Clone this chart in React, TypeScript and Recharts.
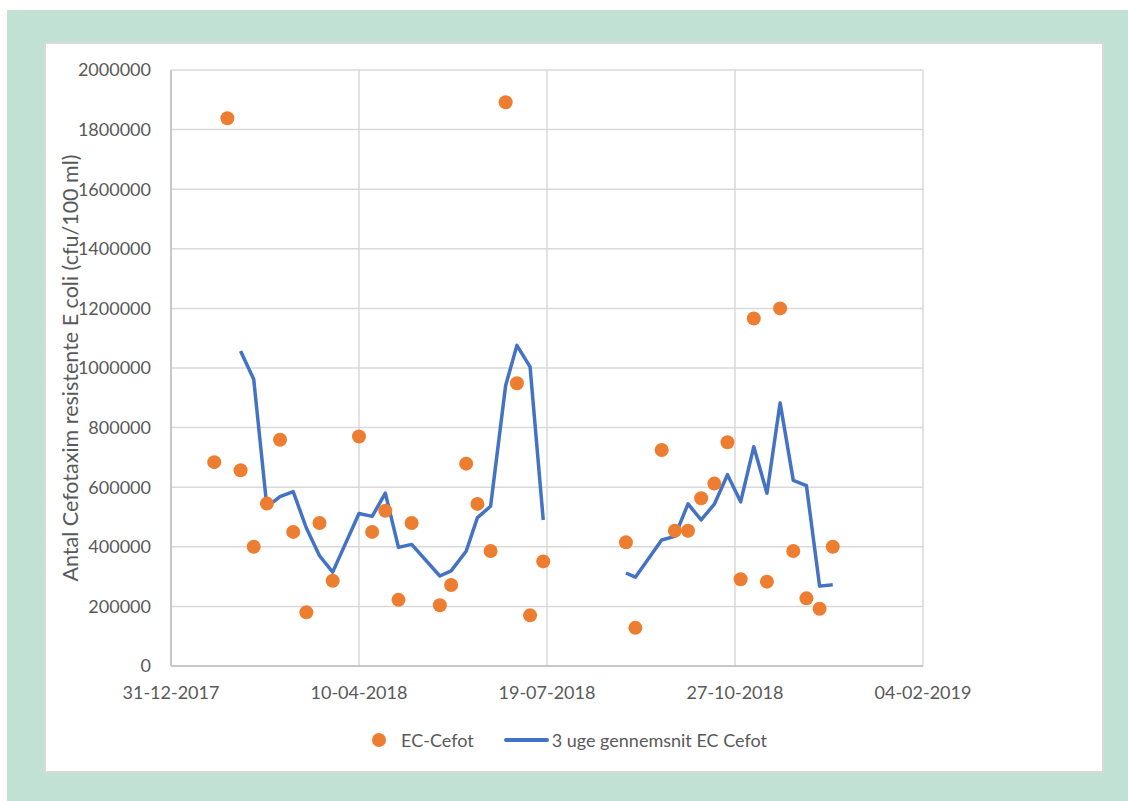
import React from "react"
import {
	ComposedChart,
	Line,
	Scatter,
	XAxis,
	YAxis,
	CartesianGrid,
	Legend,
	Label,
} from "recharts"

// weekly samples; the empty week in late July breaks the average line
const sampleDates = [
	"2018-01-23", "2018-01-30", "2018-02-06", "2018-02-13", "2018-02-20",
	"2018-02-27", "2018-03-06", "2018-03-13", "2018-03-20", "2018-03-27",
	"2018-04-10", "2018-04-17", "2018-04-24", "2018-05-01", "2018-05-08",
	"2018-05-23", "2018-05-29", "2018-06-06", "2018-06-12", "2018-06-19",
	"2018-06-27", "2018-07-03", "2018-07-10", "2018-07-17", "2018-07-24",
	"2018-08-30", "2018-09-04", "2018-09-18", "2018-09-25", "2018-10-02",
	"2018-10-09", "2018-10-16", "2018-10-23", "2018-10-30", "2018-11-06",
	"2018-11-13", "2018-11-20", "2018-11-27", "2018-12-04", "2018-12-11",
	"2018-12-18",
]

const ecCefot = [
	684000, 1838000, 657000, 400000, 545000,
	759000, 450000, 180000, 480000, 286000,
	770000, 450000, 521000, 222000, 480000,
	204000, 272000, 679000, 544000, 386000,
	1892000, 949000, 170000, 351000, null,
	415000, 128000, 725000, 454000, 454000,
	563000, 612000, 751000, 291000, 1166000,
	283000, 1200000, 386000, 227000, 192000,
	400000,
]

const avg3Weeks = [
	null, null, 1057000, 962000, 534000,
	568000, 585000, 463000, 370000, 315000,
	512000, 502000, 580000, 398000, 408000,
	302000, 319000, 385000, 498000, 536000,
	941000, 1076000, 1004000, 490000, null,
	312000, 298000, 423000, 435000, 544000,
	490000, 543000, 642000, 551000, 736000,
	580000, 883000, 623000, 605000, 268000,
	273000,
]

const xTickDates = ["2017-12-31", "2018-04-10", "2018-07-19", "2018-10-27", "2019-02-04"]
const yTicks = [0, 200000, 400000, 600000, 800000, 1000000, 1200000, 1400000, 1600000, 1800000, 2000000]

const toTime = (d: string) => {
	const [y, m, day] = d.split("-").map(Number)
	return Date.UTC(y, m - 1, day)
}

const pad = (n: number) => String(n).padStart(2, "0")
const formatDate = (t: number) => {
	const d = new Date(t)
	return `${pad(d.getUTCDate())}-${pad(d.getUTCMonth() + 1)}-${d.getUTCFullYear()}`
}

const xTicks = xTickDates.map(toTime)

const scatterData = sampleDates
	.map((d, i) => ({ t: toTime(d), ec: ecCefot[i] }))
	.filter((p) => p.ec !== null)

const lineData = sampleDates.map((d, i) => ({ t: toTime(d), avg: avg3Weeks[i] }))

const ORANGE = "#ED7D31"
const BLUE = "#4472C4"
const TEXT = "#595959"
const FONT = "Lato, 'Open Sans', sans-serif"

const LegendBox = () => (
	<div
		style={{
			height: 26,
			display: "flex",
			alignItems: "center",
			justifyContent: "center",
			fontFamily: FONT,
			fontSize: 18,
			color: TEXT,
		}}
	>
		<span
			style={{
				width: 14,
				height: 14,
				borderRadius: 7,
				background: ORANGE,
				display: "inline-block",
			}}
		/>
		<span style={{ marginLeft: 15 }}>EC-Cefot</span>
		<span
			style={{
				marginLeft: 30,
				width: 45,
				height: 4,
				borderRadius: 2,
				background: BLUE,
				display: "inline-block",
			}}
		/>
		<span style={{ marginLeft: 3 }}>3 uge gennemsnit EC Cefot</span>
	</div>
)

const YTitle = (props: any) => {
	const { viewBox } = props
	const cy = viewBox.y + viewBox.height / 2
	return (
		<text
			x={24}
			y={cy}
			transform={`rotate(-90, 24, ${cy})`}
			textAnchor="middle"
			dominantBaseline="central"
			fill={TEXT}
			fontSize={21.5}
			fontFamily={FONT}
		>
			Antal Cefotaxim resistente E coli (cfu/100 ml)
		</text>
	)
}

const App = () => (
	<div style={{ position: "absolute", left: 0, top: 0, width: 1128, height: 801, background: "#fff" }}>
		<div
			style={{
				position: "absolute",
				left: 7,
				top: 10,
				width: 1121,
				height: 791,
				background: "#c0e1d3",
			}}
		/>
		<div
			style={{
				position: "absolute",
				left: 44,
				top: 42,
				width: 1060,
				height: 731,
				background: "#fff",
				border: "2px solid #d9d9d9",
				boxSizing: "border-box",
			}}
		/>
		<div style={{ position: "absolute", left: 46, top: 44 }}>
			<ComposedChart
				width={1056}
				height={727}
				margin={{ top: 26, right: 179, bottom: 18, left: 0 }}
			>
				<CartesianGrid stroke="#d9d9d9" strokeWidth={1.5} verticalValues={xTicks} />
				<XAxis
					type="number"
					dataKey="t"
					domain={[xTicks[0], xTicks[xTicks.length - 1]]}
					ticks={xTicks}
					tickFormatter={formatDate}
					allowDataOverflow
					height={61}
					tickSize={0}
					tickMargin={20}
					stroke="#bfbfbf"
					strokeWidth={1.5}
					tick={{ fill: TEXT, fontSize: 18, fontFamily: FONT }}
				/>
				<YAxis
					type="number"
					domain={[0, 2000000]}
					ticks={yTicks}
					allowDataOverflow
					width={125}
					tickSize={0}
					tickMargin={20}
					stroke="#bfbfbf"
					strokeWidth={1.5}
					tick={{ fill: TEXT, fontSize: 18, fontFamily: FONT }}
				>
					<Label content={<YTitle />} />
				</YAxis>
				<Line
					data={lineData}
					dataKey="avg"
					name="3 uge gennemsnit EC Cefot"
					stroke={BLUE}
					strokeWidth={3.5}
					strokeLinejoin="round"
					dot={false}
					activeDot={false}
					connectNulls={false}
					isAnimationActive={false}
				/>
				<Scatter
					data={scatterData}
					dataKey="ec"
					name="EC-Cefot"
					fill={ORANGE}
					isAnimationActive={false}
					shape={(p: any) => <circle cx={p.cx} cy={p.cy} r={7} fill={ORANGE} />}
				/>
				<Legend
					verticalAlign="bottom"
					content={<LegendBox />}
					wrapperStyle={{ left: 0, width: 1047 }}
				/>
			</ComposedChart>
		</div>
	</div>
)

export default App
